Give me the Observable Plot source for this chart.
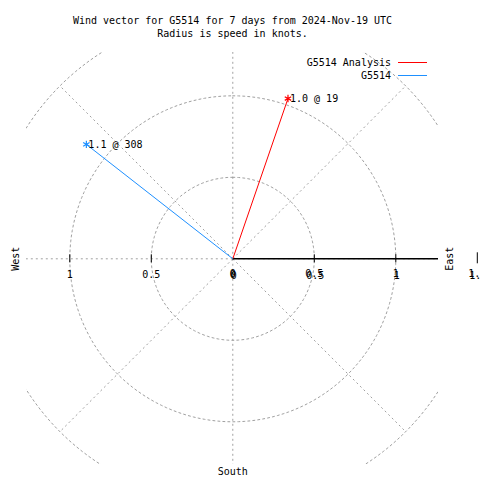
<!DOCTYPE html>
<html>
<head>
<meta charset="utf-8">
<script src="https://cdn.jsdelivr.net/npm/d3@7"></script>
<script src="https://cdn.jsdelivr.net/npm/@observablehq/plot@0.6"></script>
<style>
  html, body { margin: 0; padding: 0; background: #fff; }
  svg { display: block; }
</style>
</head>
<body>
<div id="chart"></div>
<script>
// ---- data ----
const titleLines = ["Wind vector for G5514 for 7 days from 2024-Nov-19 UTC", "Radius is speed in knots."];
const seriesNames = ["G5514 Analysis", "G5514"];
const speeds = [1.04, 1.14];          // knots
const directions = [19, 308];         // degrees clockwise from north
const seriesColors = ["#ff0000", "#1e90ff"];
const ringRadii = [0.5, 1, 1.5];
const spokeAngles = [0, 45, 90, 135, 180, 225, 270, 315];
const westTicks = [-1, -0.5];
const eastTicks = [0, 0.5, 1, 1.5];
const westLabels = ["1", "0.5", "0"];
const westLabelPos = [-1, -0.5, 0];
const eastLabels = ["0", "0.5", "1", "1.5"];
const compass = ["West", "East", "South"];

const rad = d => d * Math.PI / 180;
const vectors = seriesNames.map((name, i) => ({
  name, speed: speeds[i], dir: directions[i], color: seriesColors[i],
  x: speeds[i] * Math.sin(rad(directions[i])),
  y: speeds[i] * Math.cos(rad(directions[i])),
  label: speeds[i].toFixed(1) + " @ " + directions[i]
}));

const ringPts = ringRadii.flatMap(r => d3.range(0, 361, 2).map(a => ({r, x: r * Math.sin(rad(a)), y: r * Math.cos(rad(a))})));
const spokes = spokeAngles.map(a => ({x: 1.5 * Math.sin(rad(a)), y: 1.5 * Math.cos(rad(a))}));

const grid = {stroke: "#a0a0a0", strokeWidth: 1, strokeDasharray: "2,3", clip: true};

const svg = Plot.plot({
  width: 480,
  height: 480,
  marginLeft: 26,
  marginRight: 42,
  marginTop: 52,
  marginBottom: 16,
  x: {domain: [-1.26564, 1.26196], axis: null},
  y: {domain: [-1.26196, 1.26564], axis: null},
  style: {fontFamily: "'DejaVu Sans Mono', monospace", fontSize: "10px", color: "#000", background: "#fff"},
  marks: [
    Plot.line(ringPts, {x: "x", y: "y", z: "r", ...grid}),
    Plot.link(spokes, {x1: () => 0, y1: () => 0, x2: "x", y2: "y", ...grid}),
    // east axis
    Plot.ruleY([0], {x1: 0, x2: 1.5, stroke: "#000", strokeWidth: 1.5, clip: true}),
    Plot.ruleX(westTicks, {x: d => d, y1: 0, y2: 0, insetTop: -4, insetBottom: -4, stroke: "#000"}),
    Plot.ruleX(eastTicks.slice(1, 3), {x: d => d, y1: 0, y2: 0, insetTop: -4, insetBottom: -4, stroke: "#000"}),
    Plot.ruleX(eastTicks.slice(3), {x: d => d, y1: 0, y2: 0, insetTop: -6, insetBottom: -5, stroke: "#000"}),
    // tick labels
    Plot.text(westLabels, {x: (d, i) => westLabelPos[i], y: () => 0, text: d => d, dy: 16, fill: "#000"}),
    Plot.text(eastLabels, {x: (d, i) => eastTicks[i], y: () => 0, text: d => d, dy: 15, fill: "#000"}),
    Plot.text(eastLabels, {x: (d, i) => eastTicks[i], y: () => 0, text: d => d, dy: 17, dx: 1, fill: "#000"}),
    // vectors
    Plot.link(vectors, {x1: () => 0, y1: () => 0, x2: "x", y2: "y", stroke: "color", strokeWidth: 1}),
    Plot.dot(vectors, {x: "x", y: "y", symbol: "asterisk", r: 3.5, stroke: "color", strokeWidth: 1.2}),
    Plot.text(vectors, {x: "x", y: "y", text: "label", textAnchor: "start", dx: 2, fill: "#000"}),
    // compass labels
    Plot.text([compass[0]], {y: () => 0, frameAnchor: "left", textAnchor: "middle", lineAnchor: "middle", dx: -11, rotate: -90, fill: "#000"}),
    Plot.text([compass[1]], {y: () => 0, frameAnchor: "right", textAnchor: "middle", lineAnchor: "middle", dx: 11, rotate: -90, fill: "#000"}),
    Plot.text([compass[2]], {x: () => 0, frameAnchor: "bottom", lineAnchor: "middle", dy: 7, fill: "#000"}),
    // title
    Plot.text([titleLines[0]], {frameAnchor: "top", lineAnchor: "middle", dy: -32, fill: "#000"}),
    Plot.text([titleLines[1]], {frameAnchor: "top", lineAnchor: "middle", dy: -19, fill: "#000"})
  ]
});

// legend
const lg = d3.select(svg).append("g")
  .attr("font-family", "'DejaVu Sans Mono', monospace")
  .attr("font-size", 10);
const items = lg.selectAll("g").data(vectors).join("g")
  .attr("transform", (d, i) => `translate(0, ${63 + i * 13})`);
items.append("text").attr("x", 391).attr("text-anchor", "end").attr("dy", "0.32em").attr("fill", "#000").text(d => d.name);
items.append("line").attr("x1", 398).attr("x2", 427).attr("y1", -0.5).attr("y2", -0.5)
  .attr("stroke", d => d.color).attr("stroke-width", 1);

document.getElementById("chart").appendChild(svg);
</script>
</body>
</html>
